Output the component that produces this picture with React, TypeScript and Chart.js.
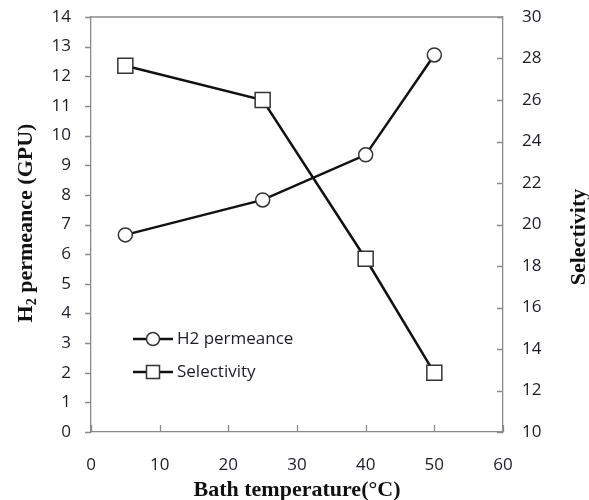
import React, { useEffect, useRef } from "react";
import { Chart, registerables } from "chart.js";
Chart.register(...registerables);

const temperatures = [5, 25, 40, 50];
const h2Permeance = [6.65, 7.83, 9.35, 12.72];
const selectivity = [27.65, 26.0, 18.35, 12.85];
const seriesNames = ["H2 permeance", "Selectivity"];
const xTitle = "Bath temperature(°C)";
const rightTitle = "Selectivity";

const TICK_FONT = "'Open Sans', sans-serif";
const TITLE_FONT = "'Liberation Serif', 'Times New Roman', serif";
const AXIS_COLOR = "#8a8a8a";
const TEXT_COLOR = "#1c1c2a";

const decorPlugin = {
  id: "decor",
  beforeDatasetsDraw(chart: any) {
    const { ctx, chartArea } = chart;
    const { left, right, top, bottom } = chartArea;
    const sx = chart.scales.x;
    const sy = chart.scales.y;
    const sy1 = chart.scales.y1;
    ctx.save();
    ctx.strokeStyle = AXIS_COLOR;
    ctx.lineWidth = 1.3;
    ctx.beginPath();
    ctx.moveTo(left, top);
    ctx.lineTo(right, top);
    sy.ticks.forEach((t: any) => {
      const y = Math.round(sy.getPixelForValue(t.value)) + 0.5;
      ctx.moveTo(left - 6, y);
      ctx.lineTo(left, y);
    });
    sy1.ticks.forEach((t: any) => {
      const y = Math.round(sy1.getPixelForValue(t.value)) + 0.5;
      ctx.moveTo(right - 6, y);
      ctx.lineTo(right, y);
    });
    sx.ticks.forEach((t: any) => {
      const x = Math.round(sx.getPixelForValue(t.value)) + 0.5;
      ctx.moveTo(x, bottom - 7);
      ctx.lineTo(x, bottom);
    });
    ctx.stroke();
    ctx.restore();
  },
  afterDraw(chart: any) {
    const { ctx, chartArea } = chart;
    ctx.save();
    // legend
    const lx0 = 133, lx1 = 173, mx = 153;
    const rows = [339, 372];
    rows.forEach((y, i) => {
      ctx.strokeStyle = "#111";
      ctx.lineWidth = 2.5;
      ctx.beginPath();
      ctx.moveTo(lx0, y);
      ctx.lineTo(lx1, y);
      ctx.stroke();
      ctx.fillStyle = "#fff";
      ctx.strokeStyle = "#333";
      ctx.lineWidth = 1.5;
      ctx.beginPath();
      if (i === 0) ctx.arc(mx, y, 6.5, 0, Math.PI * 2);
      else ctx.rect(mx - 6.5, y - 6.5, 13, 13);
      ctx.fill();
      ctx.stroke();
      ctx.fillStyle = TEXT_COLOR;
      ctx.font = `17px ${TICK_FONT}`;
      ctx.textBaseline = "middle";
      ctx.textAlign = "left";
      ctx.fillText(seriesNames[i], 177, y);
    });
    // x title
    ctx.fillStyle = "#111";
    ctx.font = `bold 22px ${TITLE_FONT}`;
    ctx.textAlign = "center";
    ctx.textBaseline = "alphabetic";
    ctx.fillText(xTitle, (chartArea.left + chartArea.right) / 2, 496);
    // left title with subscript
    ctx.save();
    ctx.translate(32, 223);
    ctx.rotate(-Math.PI / 2);
    const big = `bold 22px ${TITLE_FONT}`;
    const small = `bold 14px ${TITLE_FONT}`;
    const p1 = "H", p2 = "2", p3 = " permeance (GPU)";
    ctx.font = big;
    const w1 = ctx.measureText(p1).width;
    const w3 = ctx.measureText(p3).width;
    ctx.font = small;
    const w2 = ctx.measureText(p2).width;
    let x = -(w1 + w2 + w3) / 2;
    ctx.textAlign = "left";
    ctx.font = big;
    ctx.fillText(p1, x, 0);
    x += w1;
    ctx.font = small;
    ctx.fillText(p2, x, 4);
    x += w2;
    ctx.font = big;
    ctx.fillText(p3, x, 0);
    ctx.restore();
    // right title
    ctx.save();
    ctx.translate(585, 237);
    ctx.rotate(-Math.PI / 2);
    ctx.font = big;
    ctx.textAlign = "center";
    ctx.fillText(rightTitle, 0, 0);
    ctx.restore();
    ctx.restore();
  },
};

export default function App() {
  const ref = useRef<HTMLCanvasElement>(null);
  useEffect(() => {
    document.body.style.margin = "0";
    const chart = new Chart(ref.current!, {
      type: "line",
      data: {
        datasets: [
          {
            label: seriesNames[0],
            data: temperatures.map((t, i) => ({ x: t, y: h2Permeance[i] })),
            yAxisID: "y",
            borderColor: "#111",
            borderWidth: 2.5,
            pointStyle: "circle",
            pointRadius: 7,
            pointBackgroundColor: "#fff",
            pointBorderColor: "#333",
            pointBorderWidth: 1.5,
          },
          {
            label: seriesNames[1],
            data: temperatures.map((t, i) => ({ x: t, y: selectivity[i] })),
            yAxisID: "y1",
            borderColor: "#111",
            borderWidth: 2.5,
            pointStyle: "rect",
            pointRadius: 10.6,
            pointBackgroundColor: "#fff",
            pointBorderColor: "#333",
            pointBorderWidth: 1.5,
          },
        ],
      },
      options: {
        animation: false,
        responsive: false,
        devicePixelRatio: 1,
        layout: { padding: { top: 17, left: 0, right: 0, bottom: 0 } },
        plugins: { legend: { display: false }, tooltip: { enabled: false } },
        scales: {
          x: {
            type: "linear",
            min: 0,
            max: 60,
            ticks: { stepSize: 10, padding: 23, color: TEXT_COLOR, font: { family: TICK_FONT, size: 17 } },
            grid: { display: false, drawTicks: false },
            border: { display: true, color: AXIS_COLOR, width: 1.3 },
            afterFit: (s: any) => { s.height = 68; s.paddingLeft = 0; s.paddingRight = 0; },
          },
          y: {
            position: "left",
            min: 0,
            max: 14,
            ticks: { stepSize: 1, padding: 20, color: TEXT_COLOR, font: { family: TICK_FONT, size: 17 } },
            grid: { display: false, drawTicks: false },
            border: { display: true, color: AXIS_COLOR, width: 1.3 },
            afterFit: (s: any) => { s.width = 91; s.paddingTop = 0; s.paddingBottom = 0; },
          },
          y1: {
            position: "right",
            min: 10,
            max: 30,
            ticks: { stepSize: 2, padding: 19, color: TEXT_COLOR, font: { family: TICK_FONT, size: 17 } },
            grid: { display: false, drawTicks: false },
            border: { display: true, color: AXIS_COLOR, width: 1.3 },
            afterFit: (s: any) => { s.width = 86; s.paddingTop = 0; s.paddingBottom = 0; },
          },
        },
      },
      plugins: [decorPlugin],
    } as any);
    return () => chart.destroy();
  }, []);
  return (
    <div style={{ width: 589, height: 500, background: "#fff" }}>
      <canvas ref={ref} width={589} height={500} style={{ width: 589, height: 500, display: "block" }} />
    </div>
  );
}
